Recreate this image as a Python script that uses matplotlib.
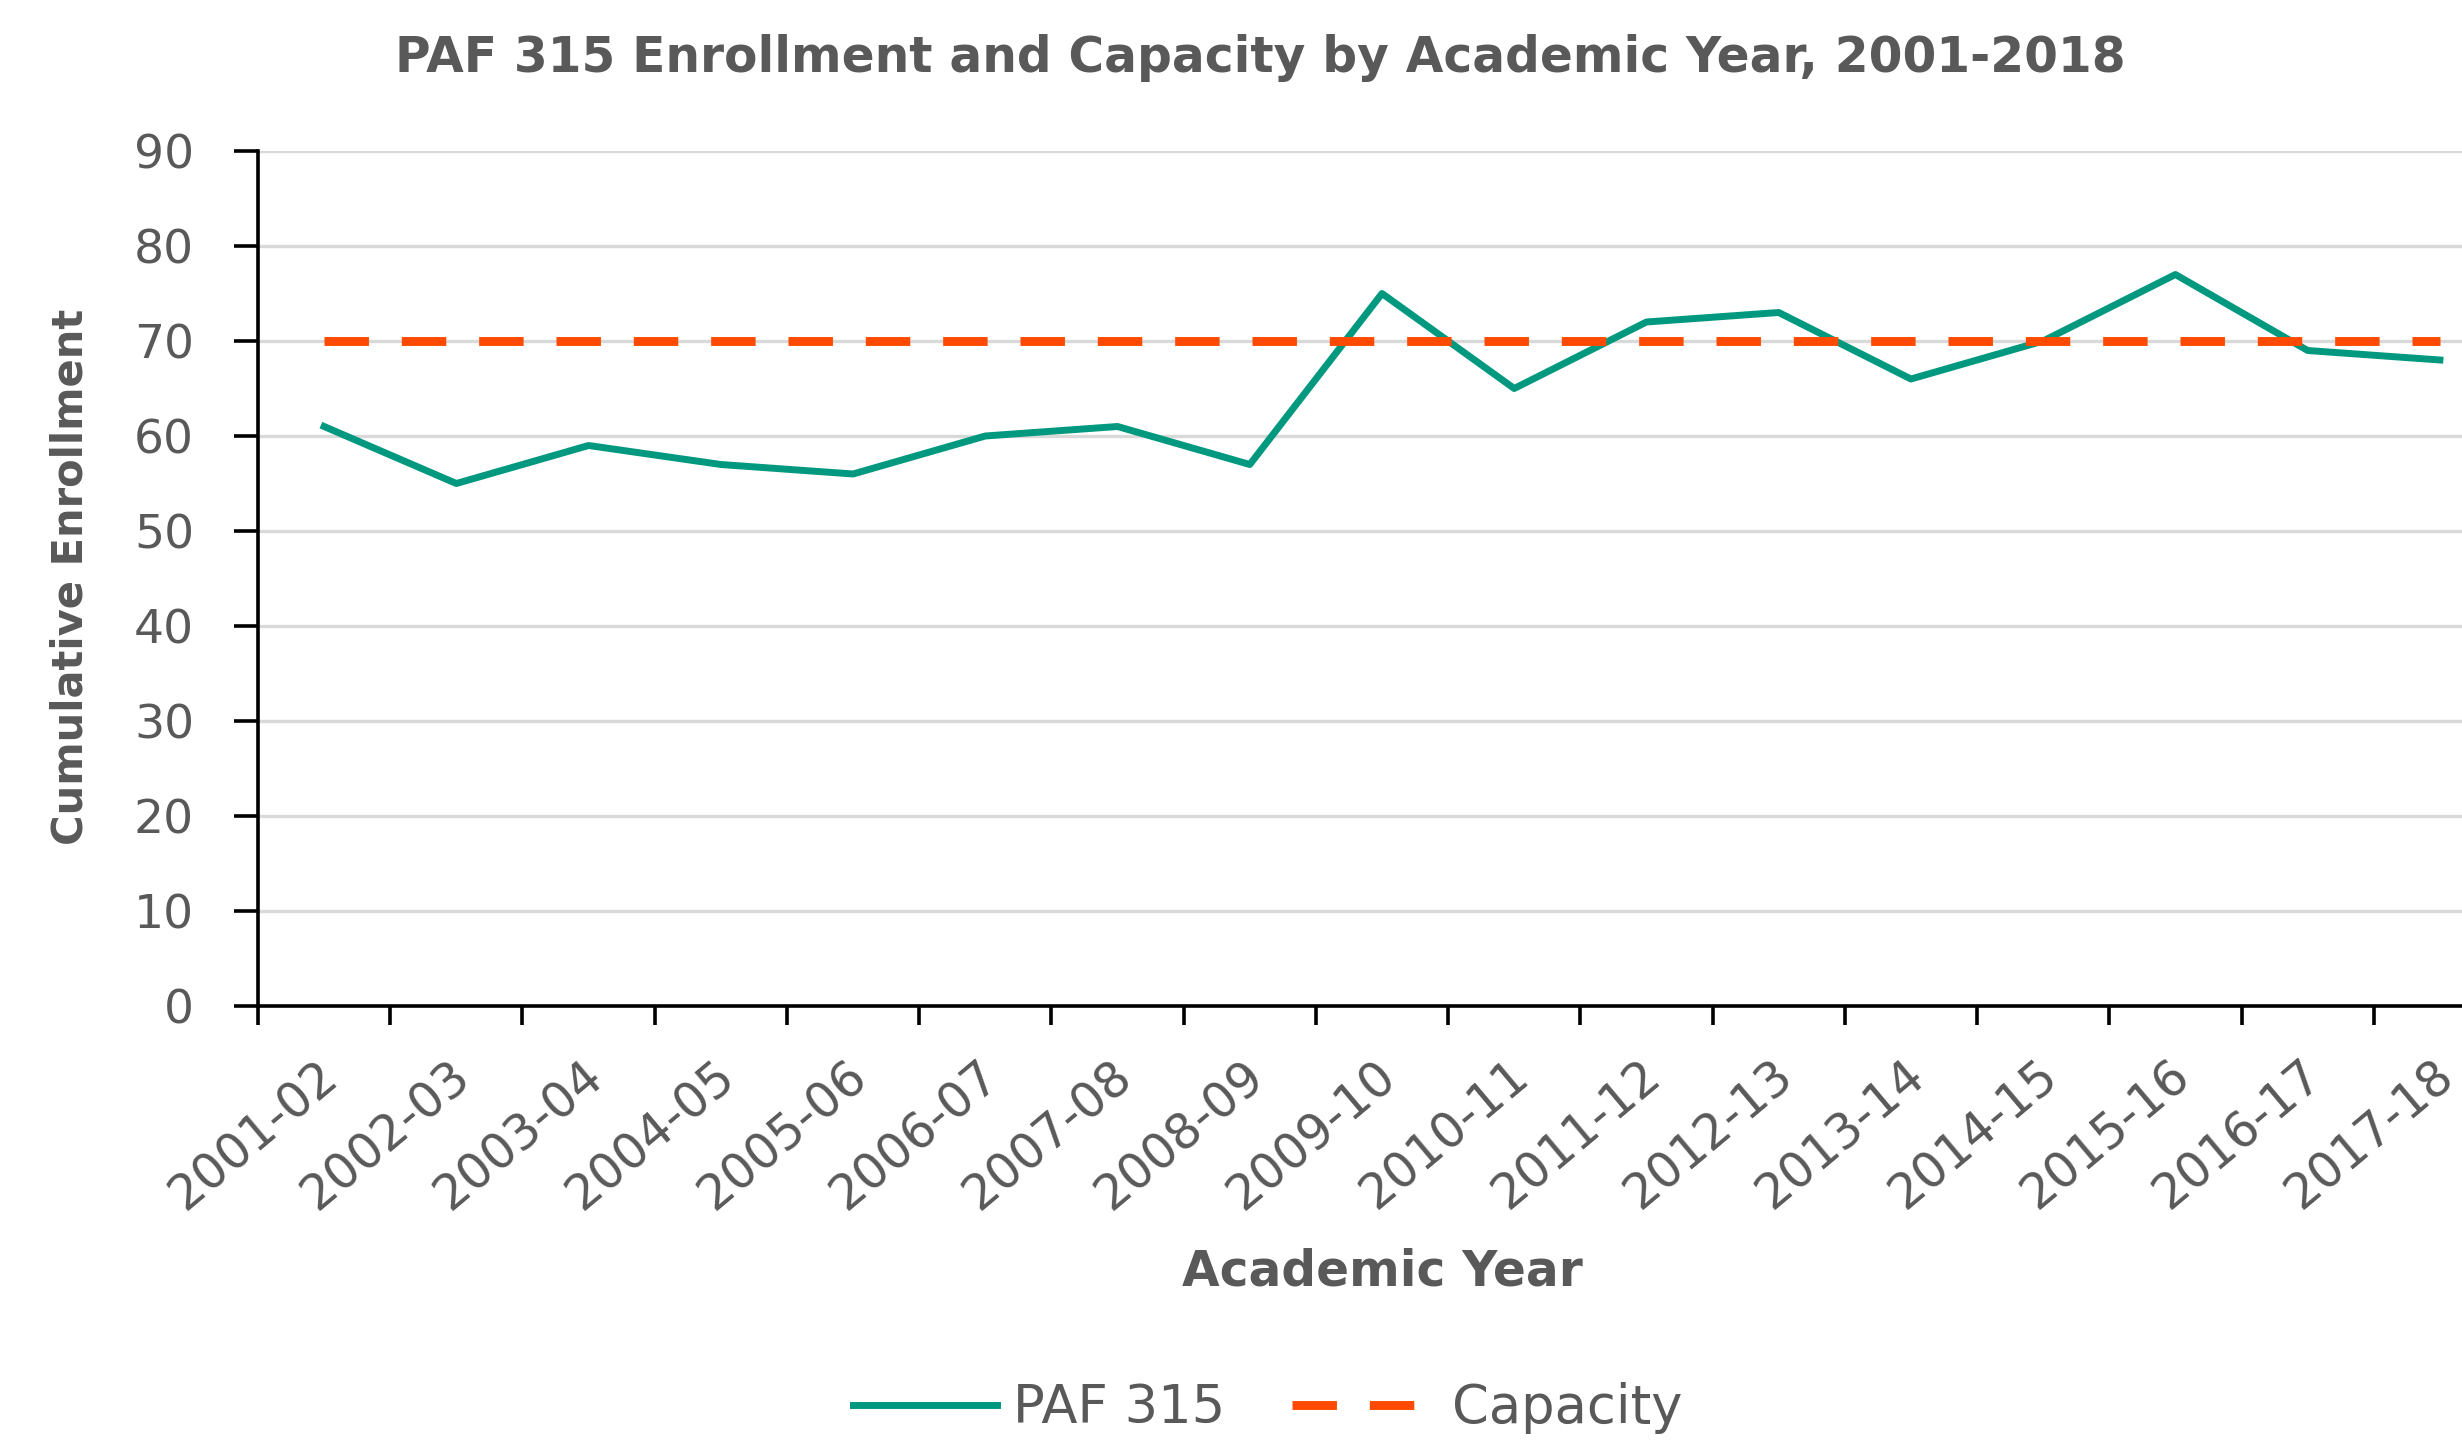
import matplotlib.pyplot as plt
import matplotlib.transforms as mtransforms
import numpy as np

years = ['2001-02', '2002-03', '2003-04', '2004-05', '2005-06', '2006-07',
         '2007-08', '2008-09', '2009-10', '2010-11', '2011-12', '2012-13',
         '2013-14', '2014-15', '2015-16', '2016-17', '2017-18']
enrollment = [61, 55, 59, 57, 56, 60, 61, 57, 75, 65, 72, 73, 66, 70, 77, 69, 68]
capacity = [70] * len(years)
yticks = [0, 10, 20, 30, 40, 50, 60, 70, 80, 90]

TEAL = '#00997F'
ORANGE = '#FF4A00'
GREY = '#595959'

plt.rcParams['font.family'] = ['DejaVu Sans']

W, H = 2462, 1440
fig = plt.figure(figsize=(W / 100, H / 100), dpi=100)
# axes runs past the right edge, the picture is cropped there
left, right, top, bottom = 258, 2506, 151, 1006
ax = fig.add_axes([left / W, 1 - bottom / H, (right - left) / W, (bottom - top) / H])

x = np.arange(len(years))
ax.plot(x, enrollment, color=TEAL, lw=5.0, label='PAF 315')
ax.plot(x, capacity, color=ORANGE, lw=6.4, ls=(0, (5.0, 3.7)), label='Capacity')

ax.set_xlim(-0.5, len(years) - 0.5)
ax.set_ylim(0, 90)
ax.set_yticks(yticks)
ax.grid(axis='y', color='#D9D9D9', lw=2.4)
ax.set_axisbelow(True)

for s in ['top', 'right']:
    ax.spines[s].set_visible(False)
for s in ['left', 'bottom']:
    ax.spines[s].set_linewidth(2.6)
    ax.spines[s].set_color('black')

ax.tick_params(axis='y', length=17, width=2.6, pad=29, labelsize=34, labelcolor=GREY)
ax.tick_params(axis='x', which='major', length=0, pad=46, labelsize=35, labelcolor=GREY)
ax.set_xticks(np.arange(-0.5, len(years), 1.0), minor=True)
ax.tick_params(axis='x', which='minor', length=14, width=2.6)
ax.set_xticks(x)
ax.set_xticklabels(years, rotation=40, ha='right', va='center', rotation_mode='anchor')
offset = mtransforms.ScaledTranslation(8 / 100, 0, fig.dpi_scale_trans)
for lbl in ax.get_xticklabels():
    lbl.set_transform(lbl.get_transform() + offset)

fig.text((left + right) / 2 / W, 1 - 1272 / H, 'Academic Year', ha='center', va='center',
         fontsize=35, fontweight='bold', color=GREY)
fig.text(71 / W, 1 - 577 / H, 'Cumulative Enrollment', rotation=90, ha='center', va='center',
         fontsize=30, fontweight='bold', color=GREY)
fig.text(1260 / W, 1 - 58 / H, 'PAF 315 Enrollment and Capacity by Academic Year, 2001-2018',
         ha='center', va='center', fontsize=35, fontweight='bold', color=GREY)

leg = fig.legend(loc='center', bbox_to_anchor=(1268 / W, 1 - 1408 / H), ncol=2,
                 frameon=False, fontsize=38, handlelength=2.73, columnspacing=1.27,
                 handletextpad=0.3, borderpad=0)
for t in leg.get_texts():
    t.set_color(GREY)

fig.savefig('out.png', dpi=100)
